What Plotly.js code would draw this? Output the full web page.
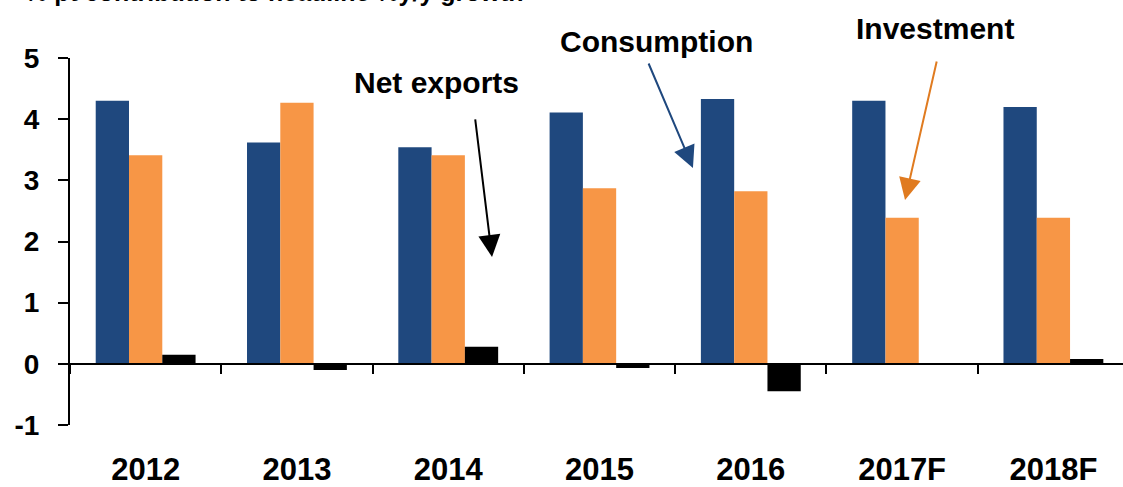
<!DOCTYPE html>
<html>
<head>
<meta charset="utf-8">
<script src="https://cdn.plot.ly/plotly-3.0.1.min.js"></script>
<style>html,body{margin:0;padding:0;background:#fff;}#chart{width:1123px;height:487px;}</style>
</head>
<body>
<div id="chart"></div>
<script>
const categories = ["2012", "2013", "2014", "2015", "2016", "2017F", "2018F"];
const consumption = [4.30, 3.62, 3.54, 4.11, 4.33, 4.30, 4.20];
const investment = [3.41, 4.27, 3.41, 2.87, 2.82, 2.39, 2.39];
const netExports = [0.15, -0.10, 0.28, -0.07, -0.45, 0.00, 0.08];
const yTicks = [-1, 0, 1, 2, 3, 4, 5];
const titleText = "% pt contribution to headline %y/y growth";

const FONT = "Liberation Sans, Arial, sans-serif";

const traces = [
  {type: "bar", name: "Consumption", x: categories, y: consumption, marker: {color: "#1F487E"}, xaxis: "x", yaxis: "y"},
  {type: "bar", name: "Investment", x: categories, y: investment, marker: {color: "#F79646"}, xaxis: "x", yaxis: "y"},
  {type: "bar", name: "Net exports", x: categories, y: netExports, marker: {color: "#000000"}, xaxis: "x", yaxis: "y"},
  {type: "scatter", mode: "none", x: categories, y: categories.map(() => null), xaxis: "x2", yaxis: "y", showlegend: false, hoverinfo: "skip"}
];

const layout = {
  width: 1123, height: 487,
  margin: {l: 70, r: 0, t: 58, b: 62},
  paper_bgcolor: "#ffffff", plot_bgcolor: "#ffffff",
  showlegend: false,
  barmode: "group", bargap: 0.34, bargroupgap: 0,
  font: {family: FONT, color: "#000", size: 26},
  xaxis: {
    type: "category", categoryorder: "array", categoryarray: categories,
    range: [-0.5, 6.46],
    showline: false, showgrid: false, zeroline: false,
    ticks: "outside", ticklen: 17, tickcolor: "rgba(0,0,0,0)",
    tickfont: {family: FONT, size: 31, color: "#000", weight: "bold"},
    fixedrange: true
  },
  xaxis2: {
    type: "category", categoryorder: "array", categoryarray: categories,
    overlaying: "x", anchor: "free", position: 1/6, side: "bottom",
    range: [-0.5, 6.46],
    showline: true, linecolor: "#000", linewidth: 2,
    ticks: "outside", tickson: "boundaries", ticklen: 9, tickwidth: 2, tickcolor: "#000",
    showticklabels: false, showgrid: false, zeroline: false, fixedrange: true
  },
  yaxis: {
    range: [-1, 5], tickvals: yTicks, ticktext: yTicks.map(String),
    showline: true, linecolor: "#000", linewidth: 2,
    ticks: "outside", ticklen: 10, tickwidth: 2, tickcolor: "#000",
    ticklabelstandoff: 13,
    showgrid: false, zeroline: false,
    tickfont: {family: FONT, size: 28, color: "#000", weight: "bold"},
    fixedrange: true
  },
  annotations: [
    {text: titleText, xref: "paper", yref: "paper", x: -0.045, y: 1 + 50/367, xanchor: "left", yanchor: "bottom",
     showarrow: false, font: {family: FONT, size: 25, color: "#000", weight: "bold"}},
    {text: "Net exports", xref: "paper", yref: "paper", x: 0.3476, y: 0.932, xanchor: "center", yanchor: "middle",
     showarrow: false, font: {family: FONT, size: 30, color: "#000", weight: "bold"}},
    {text: "Consumption", xref: "paper", yref: "paper", x: 0.557, y: 1.0436, xanchor: "center", yanchor: "middle",
     showarrow: false, font: {family: FONT, size: 30, color: "#000", weight: "bold"}},
    {text: "Investment", xref: "paper", yref: "paper", x: 0.8215, y: 1.0817, xanchor: "center", yanchor: "middle",
     showarrow: false, font: {family: FONT, size: 30, color: "#000", weight: "bold"}},
    {text: "", xref: "paper", yref: "paper", x: 0.4008, y: 0.4578, ax: -17, ay: -139,
     showarrow: true, arrowhead: 2, arrowsize: 2.2, arrowwidth: 2, arrowcolor: "#000000"},
    {text: "", xref: "paper", yref: "paper", x: 0.5916, y: 0.7003, ax: -45, ay: -106,
     showarrow: true, arrowhead: 2, arrowsize: 2.2, arrowwidth: 2, arrowcolor: "#1F487E"},
    {text: "", xref: "paper", yref: "paper", x: 0.793, y: 0.613, ax: 32, ay: -140,
     showarrow: true, arrowhead: 2, arrowsize: 2.2, arrowwidth: 2, arrowcolor: "#E07B20"}
  ]
};

Plotly.newPlot("chart", traces, layout, {displayModeBar: false, staticPlot: true});
</script>
</body>
</html>
